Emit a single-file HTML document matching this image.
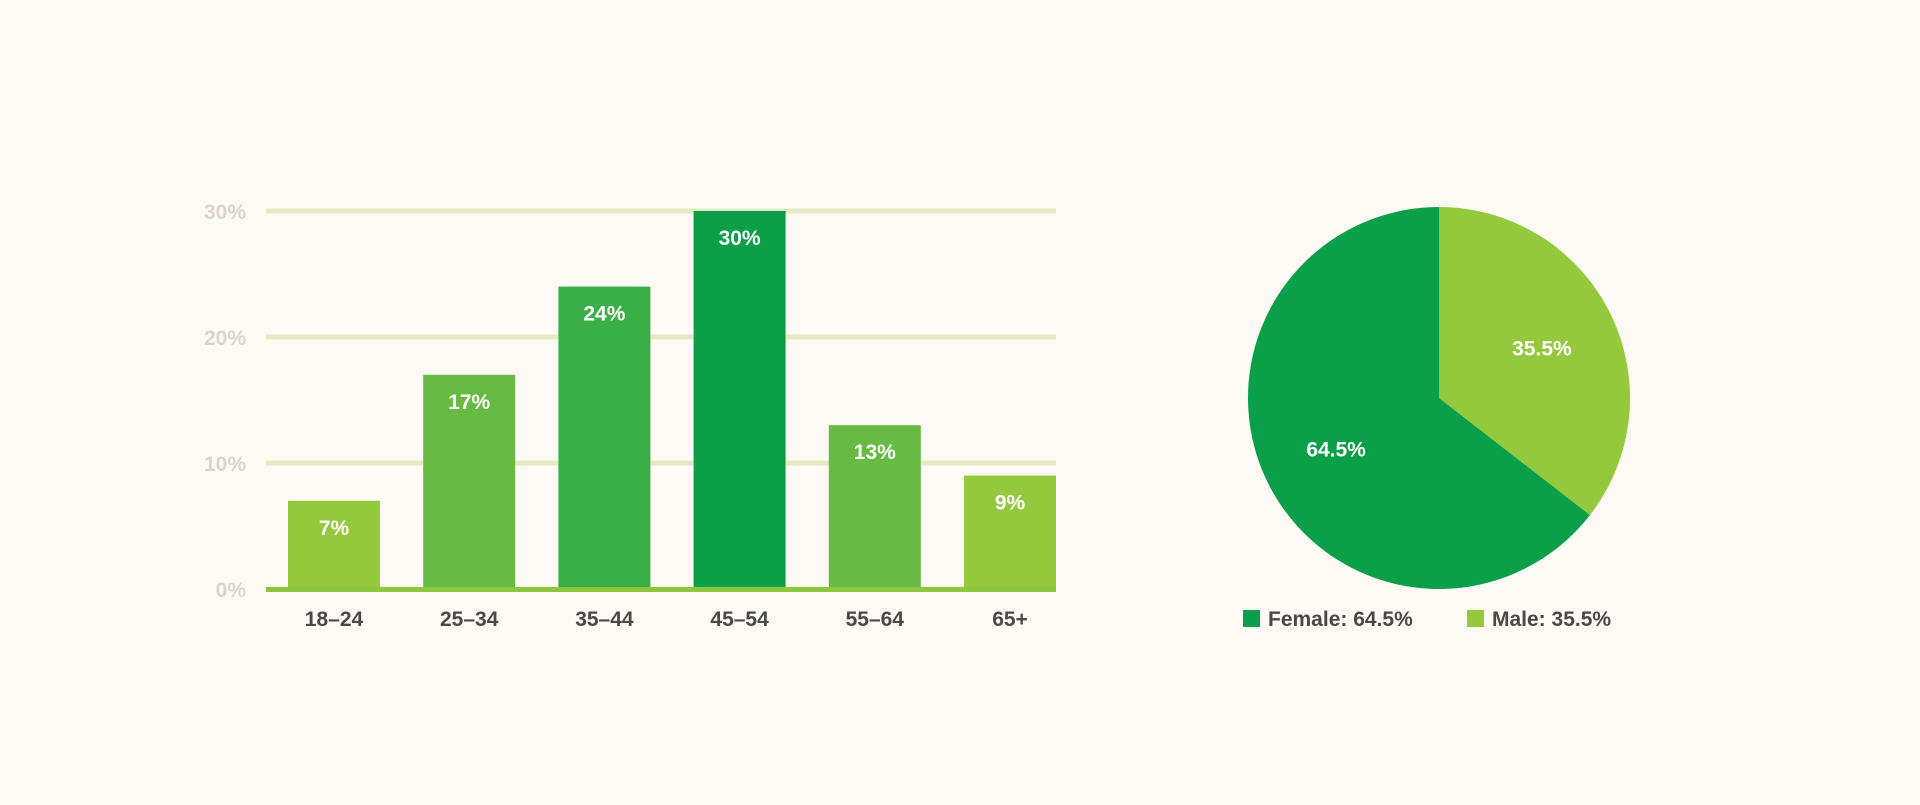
<!DOCTYPE html>
<html><head><meta charset="utf-8"><style>
body{margin:0;background:#fdf9f4;width:1920px;height:800px;overflow:hidden;font-family:"Liberation Sans",sans-serif;}
</style></head><body>
<svg id="chart" width="1920" height="800" xmlns="http://www.w3.org/2000/svg"></svg>
<script>
const categories=["18–24","25–34","35–44","45–54","55–64","65+"];
const values=[7,17,24,30,13,9];
const barColors=["#95c93d","#67ba44","#3aaf48","#0c9f49","#67ba44","#95c93d"];
const yTicks=[0,10,20,30];
const pieLabels=["Male","Female"];
const pieValues=[35.5,64.5];
const pieColors=["#95c93d","#0c9f49"];
const NS="http://www.w3.org/2000/svg";
const svg=document.getElementById("chart");
function mk(t,a,p){const e=document.createElementNS(NS,t);for(const k in a)e.setAttribute(k,a[k]);(p||svg).appendChild(e);return e;}
const x0=266,x1=1056,y0=589,pxPer=12.6;
function y(v){return y0-v*pxPer;}
function bx(i){return 288+i*135.2;}
const bw=92;
yTicks.forEach(t=>{
  if(t>0){const g=mk("rect",{x:x0,y:y(t)-2.5,width:x1-x0,height:5,fill:"#e4ebc3"});
  
  }
  const l=mk("text",{x:246,y:y(t)+8,"text-anchor":"end","font-size":"21","font-weight":"bold",fill:"#dcd5cd"});
  l.textContent=t+"%";
  
  
});
values.forEach((v,i)=>{
  const r=mk("rect",{x:bx(i),y:y(v),width:bw,height:y0-y(v),fill:barColors[i]});
  
  
  const t=mk("text",{x:bx(i)+bw/2,y:y(v)+34,"text-anchor":"middle","font-size":"21","font-weight":"bold",fill:"#fff"});
  t.textContent=v+"%";
  
  
  const c=mk("text",{x:bx(i)+bw/2,y:626,"text-anchor":"middle","font-size":"21","font-weight":"bold",fill:"#4a4848"});
  c.textContent=categories[i];
  
  
});
const base=mk("rect",{x:x0,y:y0-2,width:x1-x0,height:5,fill:"#8cc63f"});


// pie
const cx=1439,cy=398,R=191;
const total=pieValues.reduce((a,b)=>a+b,0);
let ang=0;
pieValues.forEach((v,i)=>{
  const a0=ang,a1=ang+v/total*2*Math.PI;ang=a1;
  const p0=[cx+R*Math.sin(a0),cy-R*Math.cos(a0)],p1=[cx+R*Math.sin(a1),cy-R*Math.cos(a1)];
  const large=(a1-a0)>Math.PI?1:0;
  const s=mk("path",{d:`M${cx},${cy} L${p0[0]},${p0[1]} A${R},${R} 0 ${large} 1 ${p1[0]},${p1[1]} Z`,fill:pieColors[i]});
  
  
  const m=(a0+a1)/2,lr=R*0.6;
  const t=mk("text",{x:cx+lr*Math.sin(m),y:cy-lr*Math.cos(m)+8,"text-anchor":"middle","font-size":"21","font-weight":"bold",fill:"#fff"});
  t.textContent=v+"%";
  
  
});
const legX=[1467,1243];
pieLabels.forEach((n,i)=>{
  const g=mk("g",{});
  
  
  mk("rect",{x:legX[i],y:610,width:17,height:17,fill:pieColors[i]},g);
  const t=mk("text",{x:legX[i]+25,y:626,"font-size":"21","font-weight":"bold",fill:"#4a4848"},g);
  t.textContent=n+": "+pieValues[i]+"%";
});
</script>
</body></html>
